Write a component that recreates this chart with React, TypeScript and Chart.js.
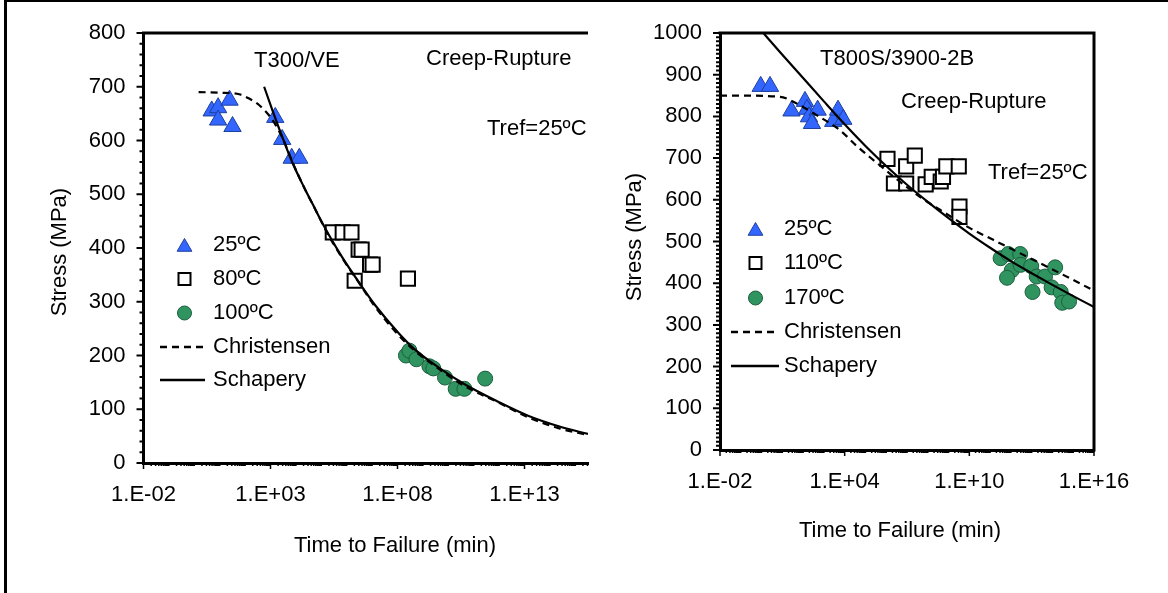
import React, { useEffect, useRef } from 'react';
import { Chart, registerables } from 'chart.js';

Chart.register(...registerables);

const FONT = '"Liberation Sans", Arial, Helvetica, sans-serif';
const FS = 22;

// ---------------- Left chart: T300/VE ----------------
const L_TRI_TIME = [4.85, 8.65, 8.65, 24.4, 32, 1540, 2880, 6840, 13600];
const L_TRI_STRESS = [655, 661, 638, 675, 626, 643, 602, 567, 567];
const L_SQ_TIME = [2.83e5, 6.97e5, 1.54e6, 2.95e6, 3.87e6, 8.3e6, 1.05e7, 2.06e6, 2.57e8];
const L_SQ_STRESS = [429, 429, 429, 397, 397, 369, 369, 339, 343];
const L_CIR_TIME = [2.15e8, 2.95e8, 5.56e8, 1.8e9, 2.57e9, 7.4e9, 1.95e10, 4.3e10, 2.82e11];
const L_CIR_STRESS = [200, 209, 193, 180, 176, 159, 138, 138, 157];
const L_CHR_LOGT = [0.17, 1.0, 1.77, 2.16, 2.55, 2.94, 3.2, 3.5, 3.9, 4.35, 4.75, 5.3, 5.8, 6.5, 7.1, 8.0, 8.7, 9.6, 10.6, 12.0, 13.1, 14.4, 15.5];
const L_CHR_STRESS = [690, 689, 686, 678, 666, 647, 629, 602, 556, 510, 473, 422, 383, 334, 292, 240, 208, 176, 144, 112, 86, 64, 52];
const L_SCH_LOGT = [2.75, 3.07, 3.46, 3.86, 4.31, 4.71, 4.9, 5.29, 5.82, 6.47, 7.13, 8.04, 8.69, 9.61, 10.66, 11.96, 13.14, 14.44, 15.5];
const L_SCH_STRESS = [700, 657, 607, 559, 514, 477, 459, 425, 383, 337, 293, 242, 211, 178, 146, 114, 88, 67, 54];
const L_X_MAJOR_EXP = [-2, 3, 8, 13];
const L_LEGEND = ['25ºC', '80ºC', '100ºC', 'Christensen', 'Schapery'];

// ---------------- Right chart: T800S/3900-2B ----------------
const R_TRI_TIME = [0.91, 2.55, 27.6, 123, 154, 192, 501, 267, 2805, 4790, 8590];
const R_TRI_STRESS = [872, 872, 813, 836, 817, 799, 815, 783, 788, 815, 793];
const R_SQ_TIME = [1.15e6, 2.35e6, 9.1e6, 9.1e6, 2.37e7, 7.9e7, 1.55e8, 4.2e8, 5.4e8, 7.8e8, 3.1e9, 3.35e9, 3.35e9];
const R_SQ_STRESS = [698, 639, 680, 639, 706, 637, 655, 644, 655, 680, 680, 584, 559];
const R_CIR_TIME = [3.2e11, 7.5e11, 2.8e12, 1.1e12, 6.5e11, 2.9e12, 9.5e12, 1.74e13, 4.4e13, 1.35e14, 1.1e13, 9.1e13, 2.5e14, 2.96e14, 6.3e14];
const R_CIR_STRESS = [460, 470, 470, 431, 413, 444, 441, 416, 416, 438, 379, 390, 379, 353, 356];
const R_CHR_LOGT = [-2, -1.36, 0.89, 1.69, 2.65, 3.77, 4.58, 5.22, 7.62, 8.59, 10.03, 11.15, 14.36, 16.0];
const R_CHR_STRESS = [850, 850, 847, 831, 803, 767, 729, 702, 607, 576, 532, 504, 424, 382];
const R_SCH_LOGT = [0.05, 1, 2, 3, 4, 5, 6, 7, 8, 9, 10, 11, 12, 13, 14, 15, 16];
const R_SCH_STRESS = [1002, 948, 892, 836, 781, 729, 681, 636, 595, 556, 519, 485, 453, 424, 396, 369, 343];
const R_X_MAJOR_EXP = [-2, 4, 10, 16];
const R_LEGEND = ['25ºC', '110ºC', '170ºC', 'Christensen', 'Schapery'];

const TRI_COLOR = '#3366ff';
const TRI_EDGE = '#1d3f9e';
const CIR_COLOR = '#309460';
const CIR_EDGE = '#1d5e3e';

type TextItem = { text: string; x: number; y: number; align?: CanvasTextAlign; rotate?: boolean };

type Spec = {
  width: number;
  height: number;
  area: { left: number; top: number; right: number; bottom: number };
  boxRight: boolean;
  yMax: number;
  yMinor: number;
  xMaxExp: number;
  xMajorExp: number[];
  triT: number[]; triS: number[];
  sqT: number[]; sqS: number[];
  cirT: number[]; cirS: number[];
  chrLogT: number[]; chrS: number[];
  schLogT: number[]; schS: number[];
  texts: TextItem[];
  legend: { labels: string[]; markerX: number; textX: number; rows: number[]; lineX0: number; lineX1: number };
};

const pts = (t: number[], s: number[]) => t.map((v, i) => ({ x: v, y: s[i] }));
const ptsLog = (lt: number[], s: number[]) => lt.map((v, i) => ({ x: Math.pow(10, v), y: s[i] }));

function fmtExp(v: number) {
  const e = Math.round(Math.log10(v));
  const a = Math.abs(e);
  return '1.E' + (e < 0 ? '-' : '+') + (a < 10 ? '0' + a : '' + a);
}

function drawTri(ctx: CanvasRenderingContext2D, x: number, y: number, r: number) {
  ctx.beginPath();
  ctx.moveTo(x, y - r);
  ctx.lineTo(x + r * 0.866, y + r * 0.5);
  ctx.lineTo(x - r * 0.866, y + r * 0.5);
  ctx.closePath();
  ctx.fillStyle = TRI_COLOR;
  ctx.fill();
  ctx.lineWidth = 1;
  ctx.strokeStyle = TRI_EDGE;
  ctx.stroke();
}

function makePlugin(spec: Spec) {
  return {
    id: 'decor',
    afterDraw(chart: any) {
      const ctx: CanvasRenderingContext2D = chart.ctx;
      const a = chart.chartArea;
      const xs = chart.scales.x;
      const ys = chart.scales.y;
      ctx.save();
      ctx.strokeStyle = '#000';
      ctx.lineCap = 'butt';
      // plot frame (top, and right for boxed chart)
      ctx.lineWidth = 3;
      ctx.beginPath();
      ctx.moveTo(a.left - 1.5, a.top);
      ctx.lineTo(a.right + (spec.boxRight ? 1.5 : 0), a.top);
      if (spec.boxRight) {
        ctx.moveTo(a.right, a.top);
        ctx.lineTo(a.right, a.bottom + 1.5);
      }
      ctx.stroke();
      // y ticks
      ctx.lineWidth = 2;
      ctx.beginPath();
      const nY = Math.round(spec.yMax / spec.yMinor);
      for (let i = 0; i <= nY; i++) {
        const v = i * spec.yMinor;
        const p = ys.getPixelForValue(v);
        const len = v % 100 === 0 ? 7 : 4;
        ctx.moveTo(a.left - len, p);
        ctx.lineTo(a.left, p);
      }
      ctx.stroke();
      // x ticks (log)
      ctx.lineWidth = 1.5;
      ctx.beginPath();
      for (let n = spec.xMajorExp[0]; n <= Math.ceil(spec.xMaxExp); n++) {
        for (let k = 1; k <= 9; k++) {
          const lv = n + Math.log10(k);
          if (lv > spec.xMaxExp + 1e-9) continue;
          const major = k === 1 && spec.xMajorExp.indexOf(n) >= 0;
          const len = major ? 6 : 3;
          const p = xs.getPixelForValue(Math.pow(10, lv));
          ctx.moveTo(p, a.bottom);
          ctx.lineTo(p, a.bottom + len);
        }
      }
      ctx.stroke();
      // texts
      ctx.fillStyle = '#000';
      ctx.font = `${FS}px ${FONT}`;
      ctx.textBaseline = 'middle';
      for (const t of spec.texts) {
        if (t.rotate) {
          ctx.save();
          ctx.translate(t.x, t.y);
          ctx.rotate(-Math.PI / 2);
          ctx.textAlign = 'center';
          ctx.fillText(t.text, 0, 0);
          ctx.restore();
        } else {
          ctx.textAlign = t.align || 'left';
          ctx.fillText(t.text, t.x, t.y);
        }
      }
      // legend
      const L = spec.legend;
      drawTri(ctx, L.markerX, L.rows[0] + 2, 8.5);
      ctx.beginPath();
      ctx.rect(L.markerX - 6, L.rows[1] - 6, 12, 12);
      ctx.fillStyle = '#fff';
      ctx.fill();
      ctx.lineWidth = 2;
      ctx.strokeStyle = '#000';
      ctx.stroke();
      ctx.beginPath();
      ctx.arc(L.markerX, L.rows[2], 7, 0, Math.PI * 2);
      ctx.fillStyle = CIR_COLOR;
      ctx.fill();
      ctx.lineWidth = 1;
      ctx.strokeStyle = CIR_EDGE;
      ctx.stroke();
      ctx.strokeStyle = '#000';
      ctx.lineWidth = 2.5;
      ctx.setLineDash([7, 5]);
      ctx.beginPath();
      ctx.moveTo(L.lineX0, L.rows[3]);
      ctx.lineTo(L.lineX1, L.rows[3]);
      ctx.stroke();
      ctx.setLineDash([]);
      ctx.beginPath();
      ctx.moveTo(L.lineX0, L.rows[4]);
      ctx.lineTo(L.lineX1, L.rows[4]);
      ctx.stroke();
      ctx.fillStyle = '#000';
      ctx.textAlign = 'left';
      L.labels.forEach((lab, i) => ctx.fillText(lab, L.textX, L.rows[i]));
      ctx.restore();
    },
  };
}

function buildConfig(spec: Spec): any {
  const majors = spec.xMajorExp.map((e) => Math.pow(10, e));
  return {
    type: 'scatter',
    data: {
      datasets: [
        {
          label: 'Schapery',
          data: ptsLog(spec.schLogT, spec.schS),
          showLine: true,
          pointRadius: 0,
          borderColor: '#000',
          borderWidth: 2.2,
          cubicInterpolationMode: 'monotone',
        },
        {
          label: 'Christensen',
          data: ptsLog(spec.chrLogT, spec.chrS),
          showLine: true,
          pointRadius: 0,
          borderColor: '#000',
          borderWidth: 2.2,
          borderDash: [7, 5],
          cubicInterpolationMode: 'monotone',
        },
        {
          label: spec.legend.labels[0],
          data: pts(spec.triT, spec.triS),
          pointStyle: 'triangle',
          pointRadius: 10,
          backgroundColor: TRI_COLOR,
          borderColor: TRI_EDGE,
          borderWidth: 1,
        },
        {
          label: spec.legend.labels[1],
          data: pts(spec.sqT, spec.sqS),
          pointStyle: 'rect',
          pointRadius: 10,
          backgroundColor: '#fff',
          borderColor: '#000',
          borderWidth: 2,
        },
        {
          label: spec.legend.labels[2],
          data: pts(spec.cirT, spec.cirS),
          pointStyle: 'circle',
          pointRadius: 7.5,
          backgroundColor: CIR_COLOR,
          borderColor: CIR_EDGE,
          borderWidth: 1,
        },
      ],
    },
    options: {
      animation: false,
      responsive: false,
      maintainAspectRatio: false,
      events: [],
      layout: {
        padding: { left: 0, top: spec.area.top, right: spec.width - spec.area.right, bottom: 0 },
      },
      plugins: { legend: { display: false }, tooltip: { enabled: false }, title: { display: false } },
      scales: {
        x: {
          type: 'logarithmic',
          min: majors[0],
          max: Math.pow(10, spec.xMaxExp),
          afterBuildTicks: (s: any) => {
            s.ticks = majors.map((v) => ({ value: v }));
          },
          afterFit: (s: any) => {
            s.height = spec.height - spec.area.bottom;
          },
          ticks: {
            autoSkip: false,
            maxRotation: 0,
            minRotation: 0,
            padding: 19,
            color: '#000',
            font: { family: FONT, size: FS },
            callback: (v: any) => fmtExp(Number(v)),
          },
          grid: { display: false, drawTicks: false },
          border: { display: true, color: '#000', width: 3 },
        },
        y: {
          type: 'linear',
          min: 0,
          max: spec.yMax,
          afterFit: (s: any) => {
            s.width = spec.area.left;
          },
          ticks: {
            stepSize: 100,
            padding: 18,
            color: '#000',
            font: { family: FONT, size: FS },
            callback: (v: any) => String(v),
          },
          grid: { display: false, drawTicks: false },
          border: { display: true, color: '#000', width: 3 },
        },
      },
    },
    plugins: [makePlugin(spec)],
  };
}

const LEFT_SPEC: Spec = {
  width: 600,
  height: 593,
  area: { left: 143.5, top: 33, right: 591, bottom: 463 },
  boxRight: false,
  yMax: 800,
  yMinor: 20,
  xMaxExp: 15.5,
  xMajorExp: L_X_MAJOR_EXP,
  triT: L_TRI_TIME, triS: L_TRI_STRESS,
  sqT: L_SQ_TIME, sqS: L_SQ_STRESS,
  cirT: L_CIR_TIME, cirS: L_CIR_STRESS,
  chrLogT: L_CHR_LOGT, chrS: L_CHR_STRESS,
  schLogT: L_SCH_LOGT, schS: L_SCH_STRESS,
  texts: [
    { text: 'T300/VE', x: 254, y: 61 },
    { text: 'Creep-Rupture', x: 426, y: 59 },
    { text: 'Tref=25ºC', x: 487, y: 129 },
    { text: 'Stress (MPa)', x: 60, y: 252, rotate: true },
    { text: 'Time to Failure (min)', x: 395, y: 546, align: 'center' },
  ],
  legend: { labels: L_LEGEND, markerX: 184.5, textX: 213, rows: [245, 279, 313, 347, 380], lineX0: 160, lineX1: 205 },
};

const RIGHT_SPEC: Spec = {
  width: 568,
  height: 593,
  area: { left: 120, top: 33, right: 494, bottom: 450 },
  boxRight: true,
  yMax: 1000,
  yMinor: 10,
  xMaxExp: 16,
  xMajorExp: R_X_MAJOR_EXP,
  triT: R_TRI_TIME, triS: R_TRI_STRESS,
  sqT: R_SQ_TIME, sqS: R_SQ_STRESS,
  cirT: R_CIR_TIME, cirS: R_CIR_STRESS,
  chrLogT: R_CHR_LOGT, chrS: R_CHR_STRESS,
  schLogT: R_SCH_LOGT, schS: R_SCH_STRESS,
  texts: [
    { text: 'T800S/3900-2B', x: 220, y: 59 },
    { text: 'Creep-Rupture', x: 301, y: 102 },
    { text: 'Tref=25ºC', x: 388, y: 173 },
    { text: 'Stress (MPa)', x: 35, y: 237, rotate: true },
    { text: 'Time to Failure (min)', x: 300, y: 531, align: 'center' },
  ],
  legend: { labels: R_LEGEND, markerX: 155.5, textX: 184, rows: [229, 263, 298, 332, 366], lineX0: 131, lineX1: 179 },
};

function ChartCanvas({ spec, left }: { spec: Spec; left: number }) {
  const ref = useRef<HTMLCanvasElement | null>(null);
  useEffect(() => {
    if (!ref.current) return;
    const chart = new Chart(ref.current, buildConfig(spec));
    return () => chart.destroy();
  }, [spec]);
  return (
    <canvas
      ref={ref}
      width={spec.width}
      height={spec.height}
      style={{ position: 'absolute', left, top: 0, width: spec.width, height: spec.height }}
    />
  );
}

export default function App() {
  return (
    <div style={{ position: 'fixed', left: 0, top: 0, width: 1168, height: 593, background: '#fff', overflow: 'hidden' }}>
      <div
        style={{
          position: 'absolute',
          left: 4,
          top: 0,
          width: 1164,
          height: 593,
          borderLeft: '3px solid #000',
          borderTop: '2px solid #000',
          boxSizing: 'border-box',
        }}
      />
      <ChartCanvas spec={LEFT_SPEC} left={0} />
      <ChartCanvas spec={RIGHT_SPEC} left={600} />
    </div>
  );
}
